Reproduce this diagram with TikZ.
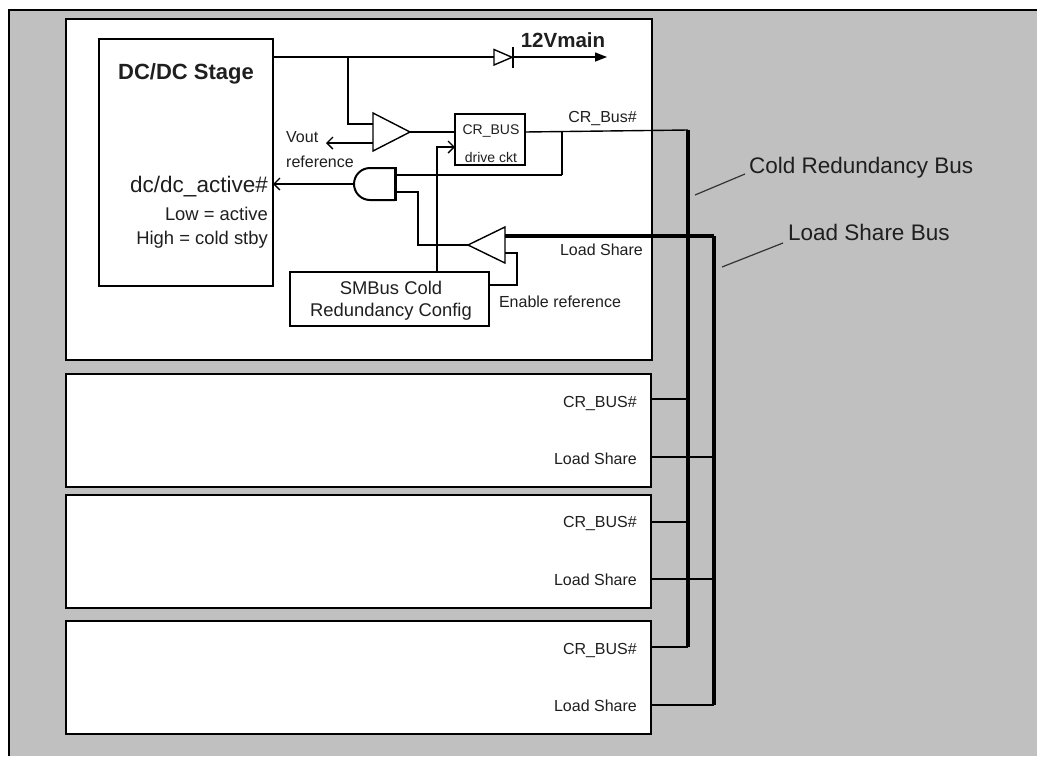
\documentclass[tikz,border=0pt]{standalone}
\usepackage{fontspec}
\setmainfont{Liberation Sans}
\usetikzlibrary{arrows.meta}
\definecolor{bggray}{RGB}{192,192,192}
\begin{document}
\begin{tikzpicture}[x=1pt,y=-1pt,
  blk/.style={draw=black, line width=2.6pt, fill=white, inner sep=0pt, outer sep=0pt, anchor=north west},
  boxs/.style={draw=black, line width=2.2pt, fill=white, inner sep=0pt, outer sep=0pt, anchor=north west},
  wire/.style={line width=1.4pt},
  bus/.style={line width=3.2pt},
  lbl/.style={font=\fontsize{16}{18}\selectfont, inner sep=0pt, text=black!88},
  smalll/.style={font=\fontsize{14}{16}\selectfont, inner sep=0pt, text=black!88},
  midl/.style={font=\fontsize{18.4}{20}\selectfont, inner sep=0pt, text=black!88},
  bigl/.style={font=\fontsize{22.5}{24}\selectfont, inner sep=0pt, text=black!88},
  barb/.style={-{Straight Barb[length=6pt,width=12pt,line width=1.4pt]}},
]
\useasboundingbox (0,0) rectangle (1037,756);
% background panel
\fill[bggray] (9,10) rectangle (1037,756);
\draw[line width=2pt] (9,756) -- (9,10) -- (1037,10);

% blocks
\node[blk, minimum width=586pt, minimum height=341pt] (b1) at (66,19) {};
\node[blk, minimum width=585pt, minimum height=113pt] (b2) at (66,374) {};
\node[blk, minimum width=585pt, minimum height=113pt] (b3) at (66,495) {};
\node[blk, minimum width=585pt, minimum height=113pt] (b4) at (66,621) {};

% inner boxes
\node[boxs, line width=2pt, minimum width=174pt, minimum height=247pt] (dcdc) at (99,39) {};
\node[boxs, line width=2.6pt, minimum width=70pt, minimum height=51pt] (crbox) at (455,114) {};
\node[boxs, line width=2.6pt, minimum width=199pt, minimum height=54pt] (smb) at (290,272) {};

% texts in DC/DC stage
\node[bigl, font=\fontsize{22}{24}\selectfont\bfseries] (tdc) at (186,74) {DC/DC Stage};
\node[bigl, anchor=east] (tact) at (268,187) {dc/dc\_active\#};
\node[midl, anchor=east] (tlow) at (268,214) {Low = active};
\node[midl, anchor=east] (thigh) at (268,240) {High = cold stby};

% texts in CR box and SMBus box
\node[smalll] (tcr1) at (491,131) {CR\_BUS};
\node[smalll] (tcr2) at (491,157) {drive ckt};
\node[midl] (tsm1) at (391,288) {SMBus Cold};
\node[midl] (tsm2) at (391,312) {Redundancy Config};

% other labels
\node[lbl, font=\fontsize{20.5}{22}\selectfont\bfseries] (t12) at (563,40) {12Vmain};
\node[lbl, anchor=west] (tvout) at (286,137) {Vout};
\node[lbl, anchor=west] (tref) at (286,162) {reference};
\node[lbl, anchor=east] (tcrb) at (637,118) {CR\_Bus\#};
\node[lbl, anchor=east] (tls1) at (643,250) {Load Share};
\node[lbl] (ten) at (560,302) {Enable reference};
\node[bigl, anchor=west] (tcrbus) at (749,168) {Cold Redundancy Bus};
\node[bigl, anchor=west] (tlsbus) at (788,232) {Load Share Bus};

\node[lbl, anchor=east] (c2) at (637,403) {CR\_BUS\#};
\node[lbl, anchor=east] (l2) at (637,459) {Load Share};
\node[lbl, anchor=east] (c3) at (637,523) {CR\_BUS\#};
\node[lbl, anchor=east] (l3) at (637,580) {Load Share};
\node[lbl, anchor=east] (c4) at (637,650) {CR\_BUS\#};
\node[lbl, anchor=east] (l4) at (637,706) {Load Share};

% coordinates
\coordinate (dcout) at (273,57);
\coordinate (brtop) at (348,57);
\coordinate (brbot) at (348,124);
\coordinate (bufin) at (373,124);
\coordinate (bufv) at (373,143);
\coordinate (vtip) at (326,143);
\coordinate (bufout) at (410,132);
\coordinate (crin) at (455,132);
\coordinate (crout) at (525,132);
\coordinate (jn) at (562,132);
\coordinate (jnb) at (562,175);
\coordinate (andtop) at (395,175);
\coordinate (andbot) at (395,192);
\coordinate (andout) at (354,184);
\coordinate (dcin) at (273,184);
\coordinate (aw1) at (418,192);
\coordinate (aw2) at (418,245);
\coordinate (lstip) at (468,245);
\coordinate (lsin) at (505,236);
\coordinate (lsen) at (505,253);
\coordinate (en1) at (517,253);
\coordinate (en2) at (517,285);
\coordinate (smbr) at (489,285);
\coordinate (smbt) at (437,272);
\coordinate (smbu) at (437,147);
\coordinate (crin2) at (455,147);
\coordinate (dioa) at (494,57);
\coordinate (diok) at (513,57);
\coordinate (vmain) at (607,57);
\coordinate (crbustop) at (688,130);
\coordinate (crbusbot) at (688,647);
\coordinate (lsbustop) at (714,236);
\coordinate (lsbusbot) at (714,705);
\coordinate (ld1a) at (695,195);
\coordinate (ld1b) at (745,174);
\coordinate (ld2a) at (722,267);
\coordinate (ld2b) at (783,243);

% 12V main with diode
\draw[wire] (dcout) -- (dioa);
\draw[wire, fill=white] (494,49.5) -- (494,65) -- (512,57.3) -- cycle;
\draw[line width=2.6pt] (513,47) -- (513,68);
\draw[wire, -{Triangle[length=12pt,width=9pt]}] (diok) -- (vmain);

% buffer
\draw[wire] (brtop) -- (brbot) -- (bufin);
\draw[wire, fill=white] (373,113) -- (373,151) -- (bufout) -- cycle;
\draw[wire, barb] (bufv) -- (vtip);
\draw[wire] (bufout) -- (crin);
\draw[wire, barb] (smbt) -- (smbu) -- (crin2);

% CR bus output
\draw[wire] (crout) -- (crbustop);
\draw[line width=2.6pt] (jn) -- (jnb);
\draw[wire] (jnb) -- (andtop);

% AND gate
\draw[line width=2pt, fill=white] (395,168) -- (370,168) arc[start angle=270, end angle=90, radius=16] -- (395,200);
\draw[line width=3pt] (395,166.8) -- (395,201.2);
\draw[wire, barb] (andout) -- (dcin);
\draw[wire] (andbot) -- (aw1) -- (aw2) -- (lstip);

% load share amp
\draw[wire, fill=white] (505,227) -- (505,263) -- (lstip) -- cycle;
\draw[bus] (lsin) -- (lsbustop);
\draw[wire] (lsen) -- (en1) -- (en2) -- (smbr);

% buses
\draw[bus] (crbustop) -- (crbusbot);
\draw[bus] (lsbustop) -- (lsbusbot);
\draw[wire] (651,399) -- (688,399);
\draw[wire] (651,457) -- (714,457);
\draw[wire] (651,522) -- (688,522);
\draw[wire] (651,579) -- (714,579);
\draw[wire] (651,647) -- (crbusbot);
\draw[wire] (651,705) -- (lsbusbot);

% leader lines
\draw[line width=1.2pt, black!80] (ld1a) -- (ld1b);
\draw[line width=1.2pt, black!80] (ld2a) -- (ld2b);
\end{tikzpicture}
\end{document}
